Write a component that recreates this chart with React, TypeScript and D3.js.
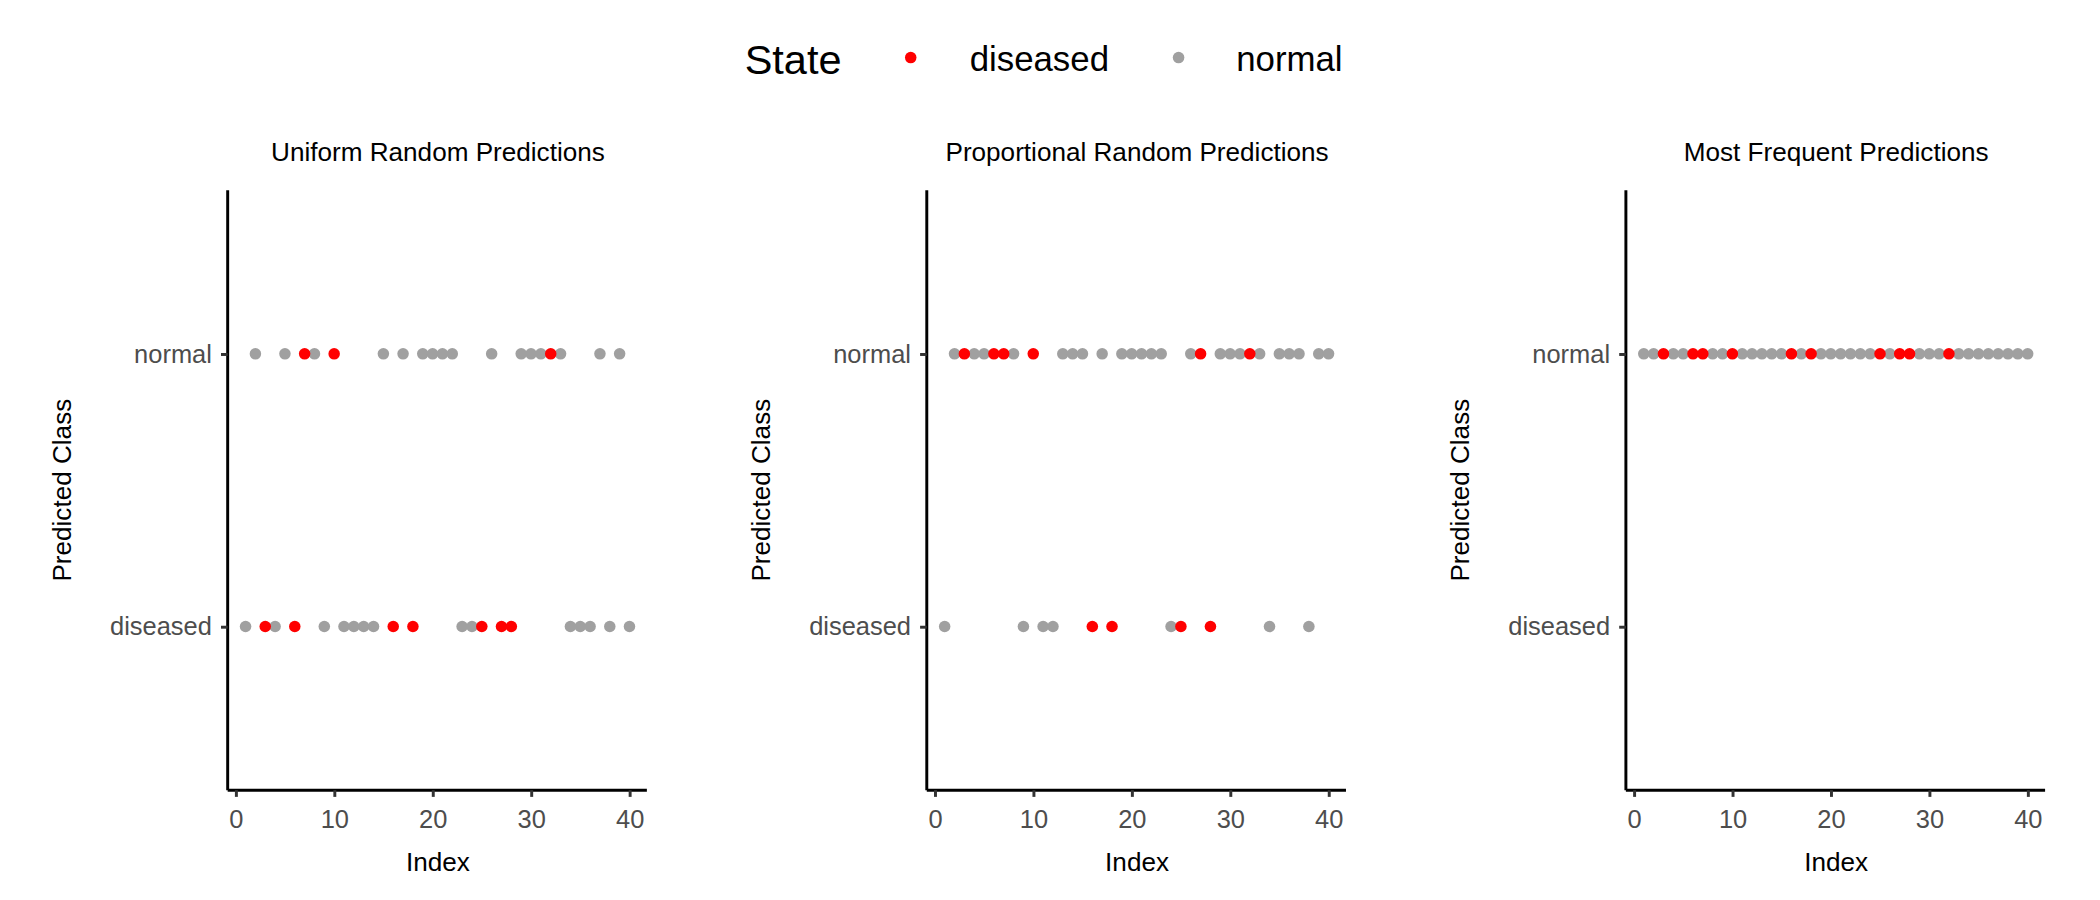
import { useRef, useEffect } from "react";
import * as d3 from "d3";

const classes = ["diseased", "normal"];
const indices = d3.range(1, 41);
const diseasedIdx = [3, 6, 7, 10, 16, 18, 25, 27, 28, 32];
const uniformDiseased = [1, 3, 4, 6, 9, 11, 12, 13, 14, 16, 18, 23, 24, 25, 27, 28, 34, 35, 36, 38, 40];
const proportionalDiseased = [1, 9, 11, 12, 16, 18, 24, 25, 28, 34, 38];
const mostFrequentDiseased: number[] = [];
const titles = ["Uniform Random Predictions", "Proportional Random Predictions", "Most Frequent Predictions"];
const xTicks = [0, 10, 20, 30, 40];

const panels = [uniformDiseased, proportionalDiseased, mostFrequentDiseased];
const panelLeft = [170, 692, 1214];
const colors: Record<string, string> = { diseased: "#ff0000", normal: "#a0a0a0" };

const App = () => {
  const svgRef = useRef<SVGSVGElement>(null);

  useEffect(() => {
    const svg = d3.select(svgRef.current);
    svg.selectAll("*").remove();
    const font = "Liberation Sans, Arial, sans-serif";

    // legend
    const lg = svg.append("g").style("font-family", font);
    lg.append("text").attr("x", 556).attr("y", 55).attr("font-size", 31).text("State");
    [["diseased", 680, 724], ["normal", 880, 923]].forEach(([k, cx, tx]) => {
      lg.append("circle").attr("cx", cx).attr("cy", 43).attr("r", 4.3).attr("fill", colors[k as string]);
      lg.append("text").attr("x", tx).attr("y", 53).attr("font-size", 26).text(k as string);
    });

    const top = 142, bottom = 590;
    panels.forEach((pred, p) => {
      const left = panelLeft[p];
      const x = d3.scaleLinear().domain([0, 40]).range([left + 6, left + 300]);
      const y = d3.scalePoint<string>().domain(classes).range([bottom, top]).padding(0.6);
      const g = svg.append("g").style("font-family", font);

      g.append("text").attr("x", left + 157).attr("y", 120).attr("text-anchor", "middle")
        .attr("font-size", 19.5).text(titles[p]);

      const xa = g.append("g").attr("transform", `translate(0,${bottom})`)
        .call(d3.axisBottom(x).tickValues(xTicks).tickSize(5).tickSizeOuter(0));
      xa.select(".domain").attr("d", `M${left},0H${left + 313}`).attr("stroke", "#000").attr("stroke-width", 2.2);
      xa.selectAll(".tick line").attr("stroke", "#333").attr("stroke-width", 2.2);
      xa.selectAll(".tick text").attr("font-size", 19).attr("fill", "#4d4d4d").attr("dy", "1.05em").style("font-family", font);

      const ya = g.append("g").attr("transform", `translate(${left},0)`)
        .call(d3.axisLeft(y).tickSize(5).tickSizeOuter(0));
      ya.select(".domain").attr("d", `M0,${top}V${bottom}`).attr("stroke", "#000").attr("stroke-width", 2.2);
      ya.selectAll(".tick line").attr("stroke", "#333").attr("stroke-width", 2.2);
      ya.selectAll(".tick text").attr("font-size", 19).attr("fill", "#4d4d4d").attr("dx", "-0.2em").style("font-family", font);

      g.append("text").attr("x", left + 157).attr("y", 650).attr("text-anchor", "middle")
        .attr("font-size", 19.5).text("Index");
      g.append("text").attr("transform", `translate(${left - 117},366) rotate(-90)`)
        .attr("text-anchor", "middle").attr("font-size", 19.5).text("Predicted Class");

      const pts = indices.map(i => ({
        i,
        pred: pred.includes(i) ? "diseased" : "normal",
        state: diseasedIdx.includes(i) ? "diseased" : "normal",
      }));
      // draw normal first so diseased sit on top
      pts.sort((a, b) => (a.state === b.state ? 0 : a.state === "normal" ? -1 : 1));
      g.selectAll(".pt").data(pts).join("circle")
        .attr("class", "pt")
        .attr("cx", d => x(d.i))
        .attr("cy", d => y(d.pred)!)
        .attr("r", 4.3)
        .attr("fill", d => colors[d.state]);
    });
  }, []);

  return (
    <svg ref={svgRef} width={2100} height={900} viewBox="0 0 1568 672"
      style={{ position: "absolute", left: 0, top: 0, background: "#fff" }} />
  );
};

export default App;
